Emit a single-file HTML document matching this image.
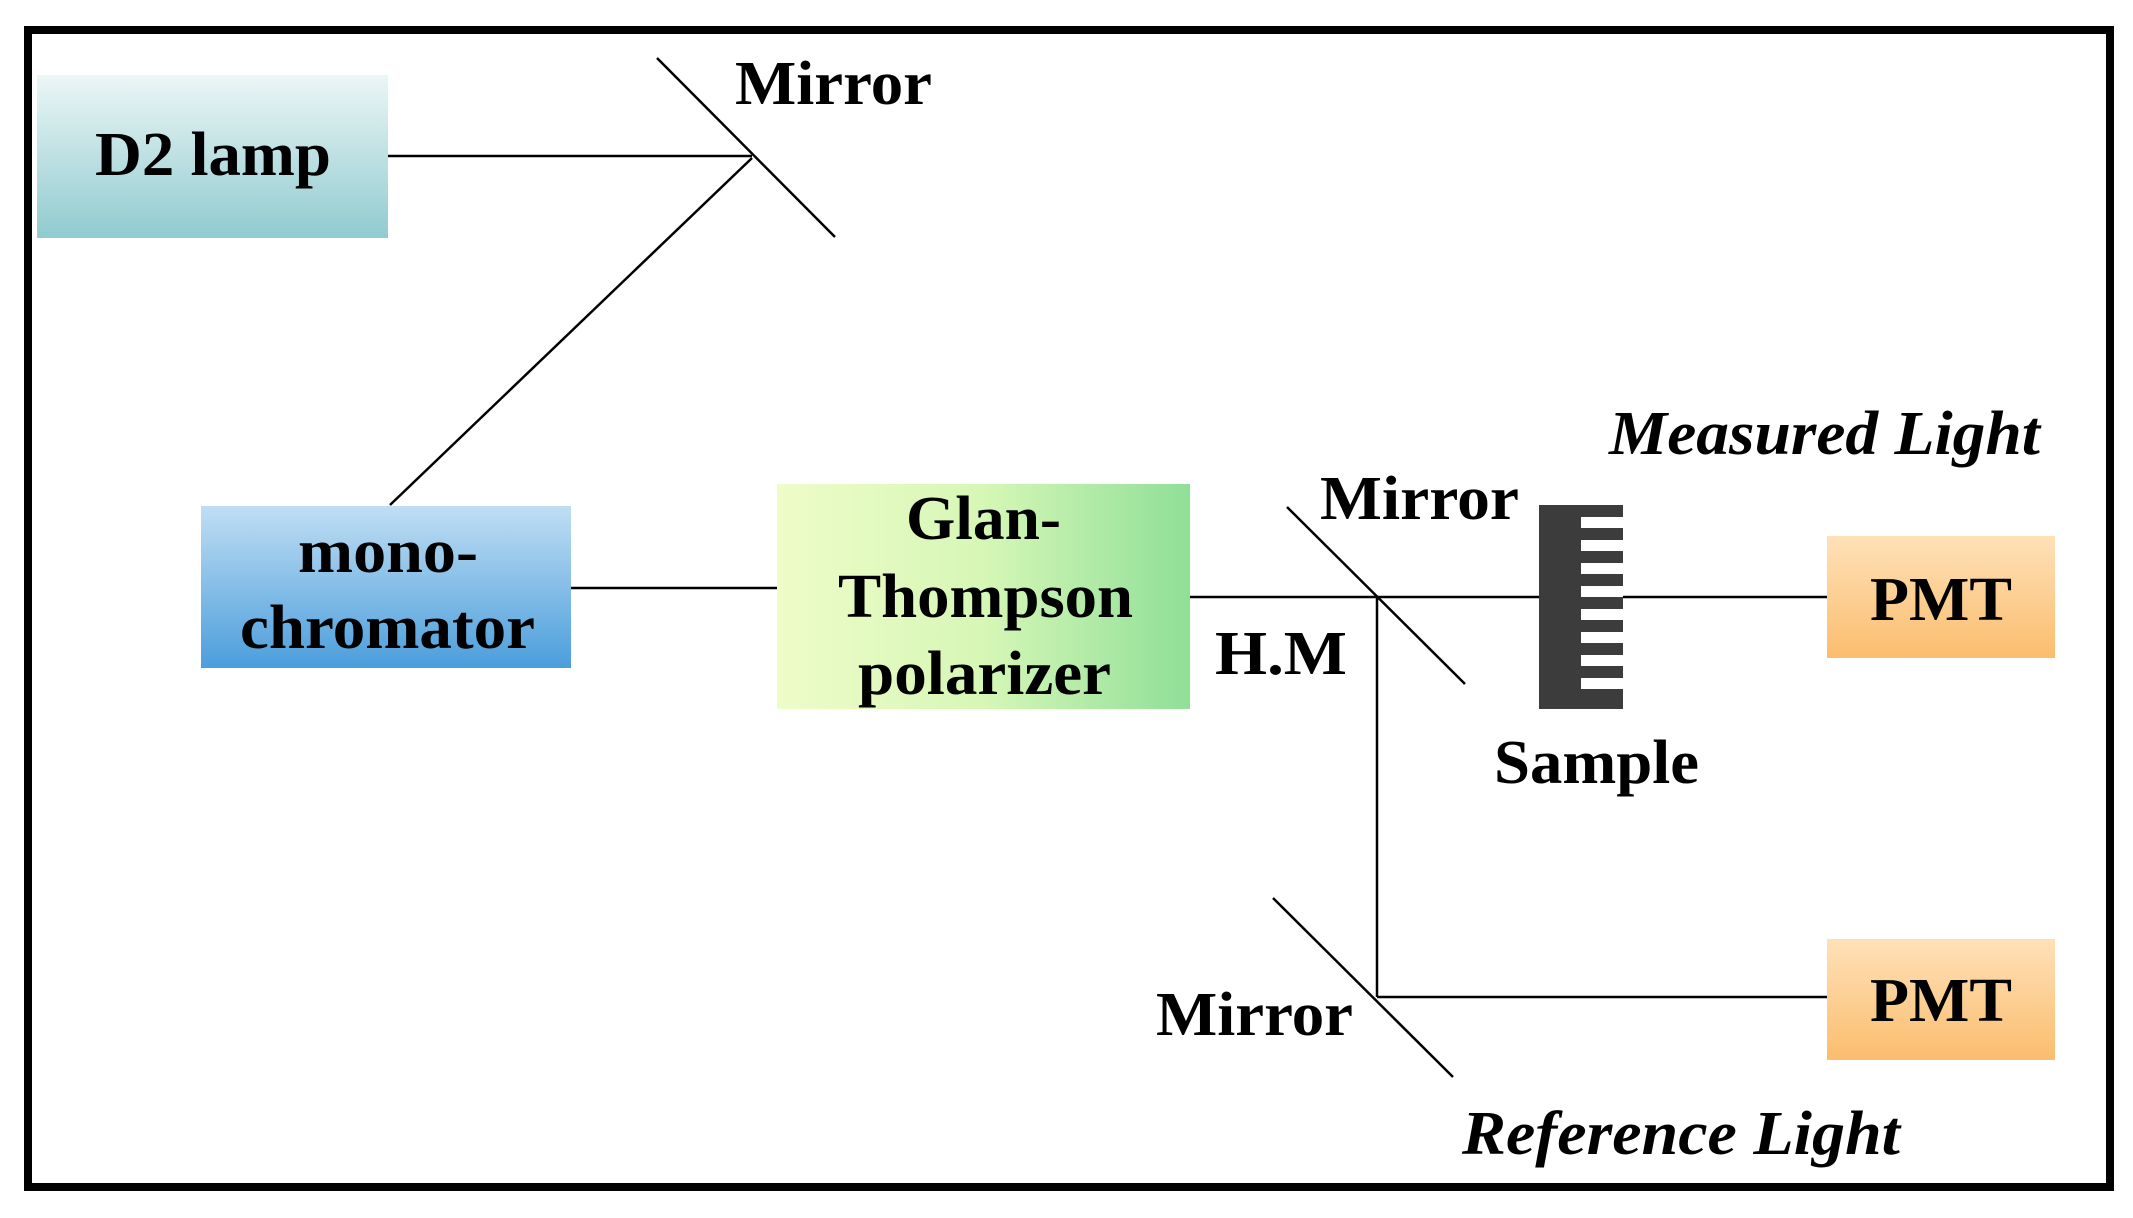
<!DOCTYPE html>
<html><head><meta charset="utf-8"><style>html,body{margin:0;padding:0;background:#fff}svg{display:block}</style></head>
<body>
<svg width="2133" height="1218" viewBox="0 0 2133 1218" xmlns="http://www.w3.org/2000/svg" font-family="Liberation Serif, serif" font-weight="bold">
<defs>
<linearGradient id="gD" x1="0" y1="0" x2="0" y2="1"><stop offset="0" stop-color="#ecf6f6"/><stop offset="1" stop-color="#90cbcf"/></linearGradient>
<linearGradient id="gM" x1="0" y1="0" x2="0" y2="1"><stop offset="0" stop-color="#c0def3"/><stop offset="1" stop-color="#4b9edc"/></linearGradient>
<linearGradient id="gG" x1="0" y1="0" x2="1" y2="0"><stop offset="0" stop-color="#eefcc8"/><stop offset="0.5" stop-color="#d6f7b6"/><stop offset="1" stop-color="#8fdf98"/></linearGradient>
<linearGradient id="gP" x1="0" y1="0" x2="0" y2="1"><stop offset="0" stop-color="#fee1b8"/><stop offset="1" stop-color="#fbbd6e"/></linearGradient>
</defs>
<rect x="28" y="30" width="2082" height="1157" fill="none" stroke="#000" stroke-width="8"/>
<g stroke="#000" stroke-width="2.5" fill="none">
<line x1="388" y1="156" x2="752" y2="156"/>
<line x1="657" y1="58" x2="835" y2="237"/>
<line x1="752" y1="158" x2="390" y2="505"/>
<line x1="571" y1="588" x2="789" y2="588"/>
<line x1="1190" y1="597" x2="1830" y2="597"/>
<line x1="1287" y1="507" x2="1465" y2="684"/>
<line x1="1377" y1="597" x2="1377" y2="997"/>
<line x1="1377" y1="997" x2="1830" y2="997"/>
<line x1="1273" y1="898" x2="1453" y2="1077"/>
</g>
<rect x="37" y="75" width="351" height="163" fill="url(#gD)"/>
<rect x="201" y="506" width="370" height="162" fill="url(#gM)"/>
<rect x="777" y="484" width="413" height="225" fill="url(#gG)"/>
<rect x="1827" y="536" width="228" height="122" fill="url(#gP)"/>
<rect x="1827" y="939" width="228" height="121" fill="url(#gP)"/>
<rect x="1539" y="505" width="84" height="204" fill="#3c3c3c"/>
<g fill="#fff">
<rect x="1581" y="517" width="42" height="11"/>
<rect x="1581" y="540" width="42" height="11"/>
<rect x="1581" y="563" width="42" height="11"/>
<rect x="1581" y="586" width="42" height="11"/>
<rect x="1581" y="609" width="42" height="11"/>
<rect x="1581" y="632" width="42" height="11"/>
<rect x="1581" y="655" width="42" height="11"/>
<rect x="1581" y="678" width="42" height="11"/>
</g>
<g font-size="62" fill="#000" lengthAdjust="spacingAndGlyphs">
<text x="95" y="175" textLength="236" lengthAdjust="spacingAndGlyphs">D2 lamp</text>
<text x="735" y="104" textLength="197" lengthAdjust="spacingAndGlyphs">Mirror</text>
<text x="298" y="572" textLength="180" lengthAdjust="spacingAndGlyphs">mono-</text>
<text x="240" y="648" textLength="295" lengthAdjust="spacingAndGlyphs">chromator</text>
<text x="906" y="539" textLength="155" lengthAdjust="spacingAndGlyphs">Glan-</text>
<text x="838" y="617" textLength="295" lengthAdjust="spacingAndGlyphs">Thompson</text>
<text x="858" y="694" textLength="253" lengthAdjust="spacingAndGlyphs">polarizer</text>
<text x="1320" y="519" textLength="199" lengthAdjust="spacingAndGlyphs">Mirror</text>
<text x="1215" y="674" textLength="132" lengthAdjust="spacingAndGlyphs">H.M</text>
<text x="1156" y="1035" textLength="197" lengthAdjust="spacingAndGlyphs">Mirror</text>
<text x="1494" y="783" textLength="205" lengthAdjust="spacingAndGlyphs">Sample</text>
<text x="1870" y="620" textLength="142" lengthAdjust="spacingAndGlyphs">PMT</text>
<text x="1870" y="1021" textLength="142" lengthAdjust="spacingAndGlyphs">PMT</text>
<text x="1609" y="454" font-style="italic" textLength="431" lengthAdjust="spacingAndGlyphs">Measured Light</text>
<text x="1462" y="1154" font-style="italic" textLength="438" lengthAdjust="spacingAndGlyphs">Reference Light</text>
</g>
</svg>
</body></html>
